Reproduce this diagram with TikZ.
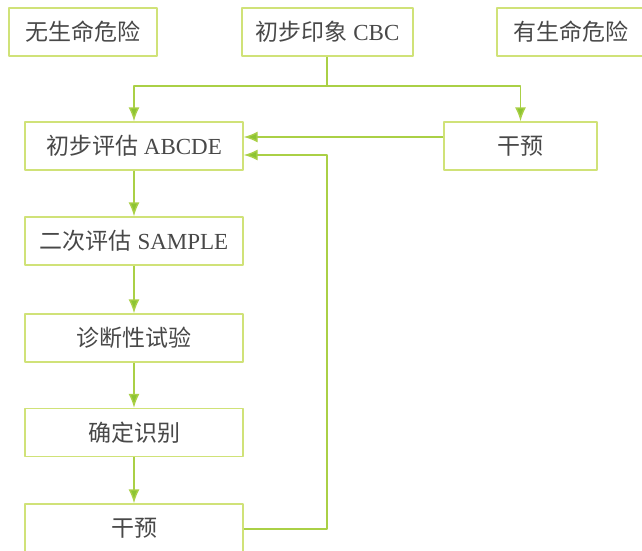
\documentclass[tikz,border=0pt]{standalone}
\usepackage{fontspec}
\setmainfont{Liberation Serif}
\newfontfamily\cjk{Noto Sans CJK SC}
\usetikzlibrary{arrows.meta}

\definecolor{boxgreen}{RGB}{208,226,120}
\definecolor{linegreen}{RGB}{170,208,70}
\definecolor{tipgreen}{RGB}{140,196,50}
\definecolor{textgray}{RGB}{72,72,72}

\begin{document}
\begin{tikzpicture}[
        x = 1pt, y = -1pt,
        line join=round,
        mybox/.style = {draw=boxgreen, line width=1.4pt, text=textgray,
            minimum height=48pt, inner sep=0pt,
            font=\fontsize{23}{27}\selectfont},
        myline/.style = {draw=linegreen, line width=1.4pt},
        myarrow/.style = {myline, -{Latex[length=14pt,width=11pt,fill=tipgreen]}}
    ]
        \useasboundingbox (0, 0) rectangle (642, 550);

        \node[mybox, minimum width=148pt] (1) at (83, 32) {\cjk 无生命危险};
        \node[mybox, minimum width=171pt] (2) at (327.5, 32) {\cjk 初步印象\rm\ CBC};
        \node[mybox, minimum width=148pt] (3) at (571, 32) {\cjk 有生命危险};
        \node[mybox, minimum width=218pt] (4) at (134, 146) {\cjk 初步评估\rm\ ABCDE};
        \node[mybox, minimum width=153pt] (5) at (520.5, 146) {\cjk 干预};
        \node[mybox, minimum width=218pt] (6) at (134, 241) {\cjk 二次评估\rm\ SAMPLE};
        \node[mybox, minimum width=218pt] (7) at (134, 338) {\cjk 诊断性试验};
        \node[mybox, minimum width=218pt] (8) at (134, 432.5) {\cjk 确定识别};
        \node[mybox, minimum width=218pt] (9) at (134, 528) {\cjk 干预};

        \coordinate (10) at (327, 86);
        \coordinate (11) at (327, 155);

        \draw[myline] (2.south -| 10) -- (10);
        \draw[myarrow] (10) -| (4);
        \draw[myarrow] (10) -| (5);

        \draw[myarrow] ([yshift=9pt]5.west) -- ([yshift=9pt]4.east);
        \draw[myarrow] (9.east |- 0, 529) -| (11) -- (4.east |- 11);

        \draw[myarrow] (4) -- (6);
        \draw[myarrow] (6) -- (7);
        \draw[myarrow] (7) -- (8);
        \draw[myarrow] (8) -- (9);

    \end{tikzpicture}
\end{document}
